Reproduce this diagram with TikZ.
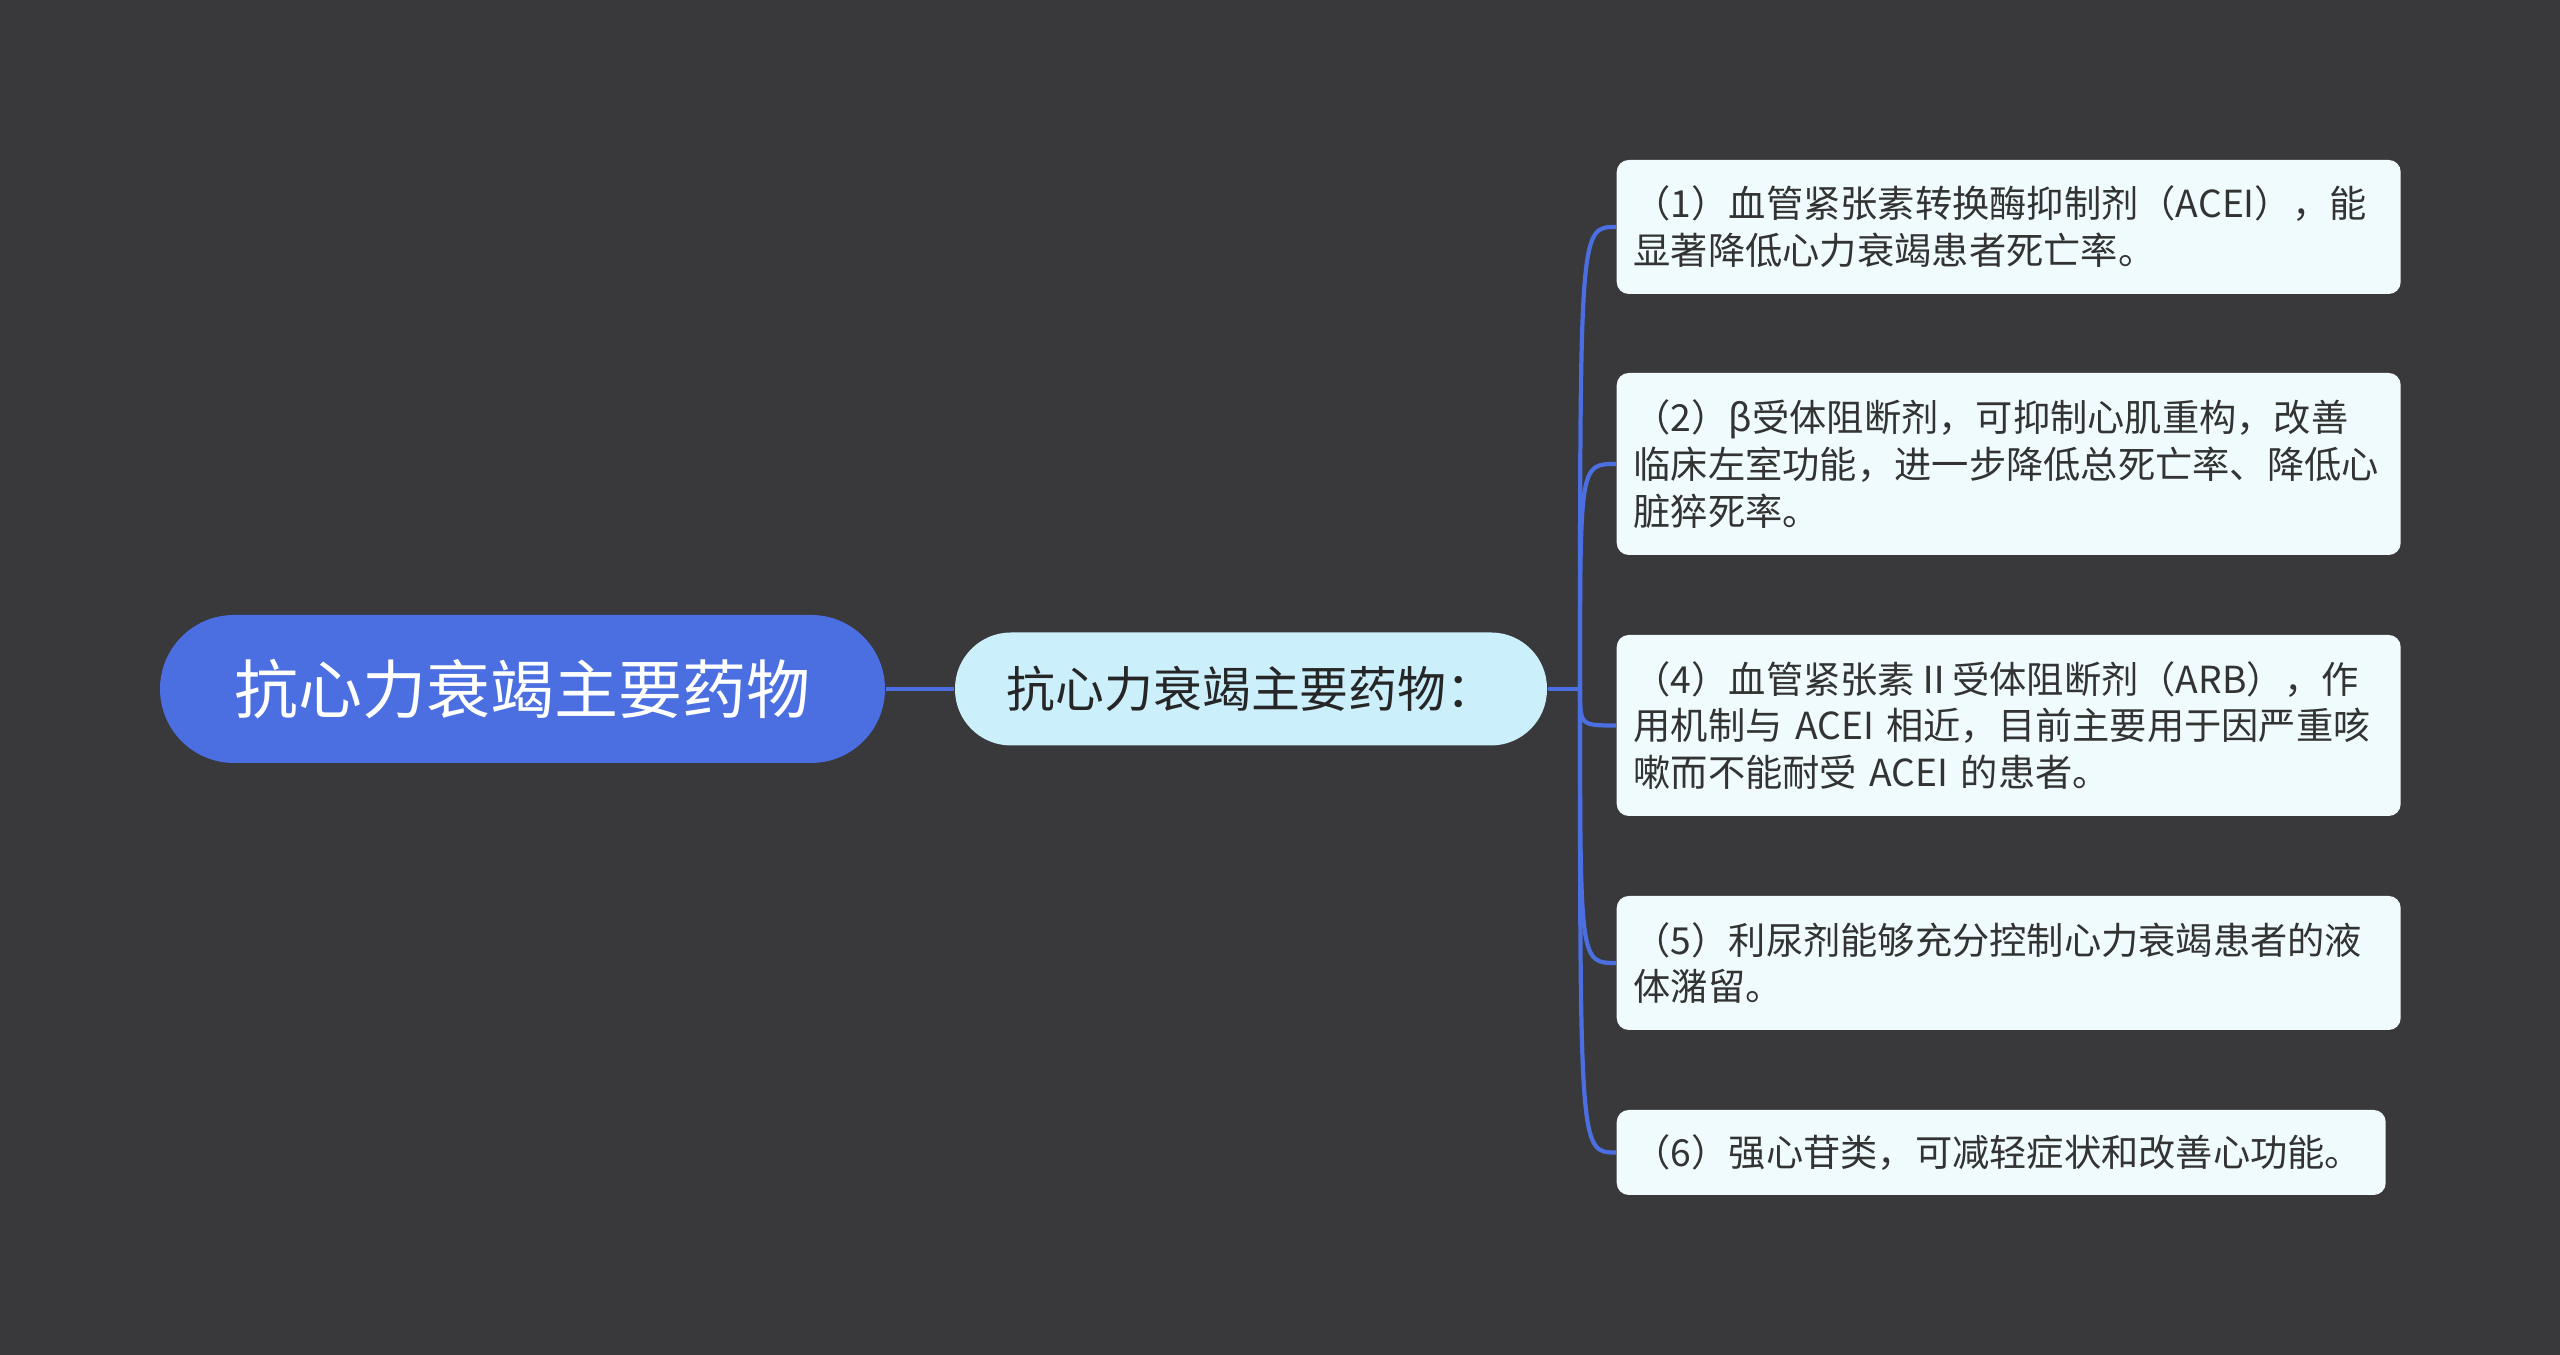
\documentclass[tikz,border=0pt]{standalone}
\usepackage{fontspec}
\setmainfont{Noto Sans CJK SC}
\definecolor{bgdark}{HTML}{39383B}
\definecolor{rootblue}{HTML}{4B6FE0}
\definecolor{subcyan}{HTML}{CCEFFC}
\definecolor{leaffill}{HTML}{F0FBFE}
\definecolor{linkblue}{HTML}{4B6FE0}
\definecolor{inktext}{HTML}{333333}
\begin{document}
\begin{tikzpicture}[link/.style = {draw=linkblue,line width=1.2pt},
                    leaf/.style = {fill=leaffill,rounded corners=0.12cm,anchor=west,
                                   text width=7.5cm,inner xsep=0.17cm,align=left,
                                   text=inktext,font=\fontsize{10.6}{13.3}\selectfont}]
                    \fill[bgdark] (0,0) rectangle (25.6,13.55);
                    
                    \node[fill=rootblue,rounded corners=0.74cm,minimum width=7.25cm,minimum height=1.48cm,
                          text=white,font=\fontsize{18.2}{22}\selectfont] (root) at (5.225,6.66) {抗心力衰竭主要药物};
                    \node[fill=subcyan,rounded corners=0.56cm,minimum width=5.92cm,minimum height=1.13cm,
                          text=black!85,font=\fontsize{13.9}{16}\selectfont] (sub) at (12.51,6.66) {抗心力衰竭主要药物：};
                    
                    \node[leaf,minimum height=1.34cm] (l1) at (16.16,11.28) {（1）血管紧张素转换酶抑制剂（ACEI），能\\显著降低心力衰竭患者死亡率。};
                    \node[leaf,minimum height=1.82cm] (l2) at (16.16,8.91) {（2）β受体阻断剂，可抑制心肌重构，改善\\临床左室功能，进一步降低总死亡率、降低心\\脏猝死率。};
                    \node[leaf,minimum height=1.81cm] (l4) at (16.16,6.295) {（4）血管紧张素Ⅱ受体阻断剂（ARB），作\\用机制与 ACEI 相近，目前主要用于因严重咳\\嗽而不能耐受 ACEI 的患者。};
                    \node[leaf,minimum height=1.34cm] (l5) at (16.16,3.92) {（5）利尿剂能够充分控制心力衰竭患者的液\\体潴留。};
                    \node[leaf,minimum height=0.85cm,text width=7.35cm] (l6) at (16.16,2.025) {（6）强心苷类，可减轻症状和改善心功能。};
                    
                    \coordinate (hub) at (15.80,6.66);
                    \draw[link] (root.east) -- (sub.west);
                    \draw[link] (sub.east) -- (hub);
                    \foreach \leafname in {l1,l2,l4,l5,l6}
                        \draw[link] (hub) .. controls (hub |- \leafname.west) .. (\leafname.west);
                \end{tikzpicture}
\end{document}
